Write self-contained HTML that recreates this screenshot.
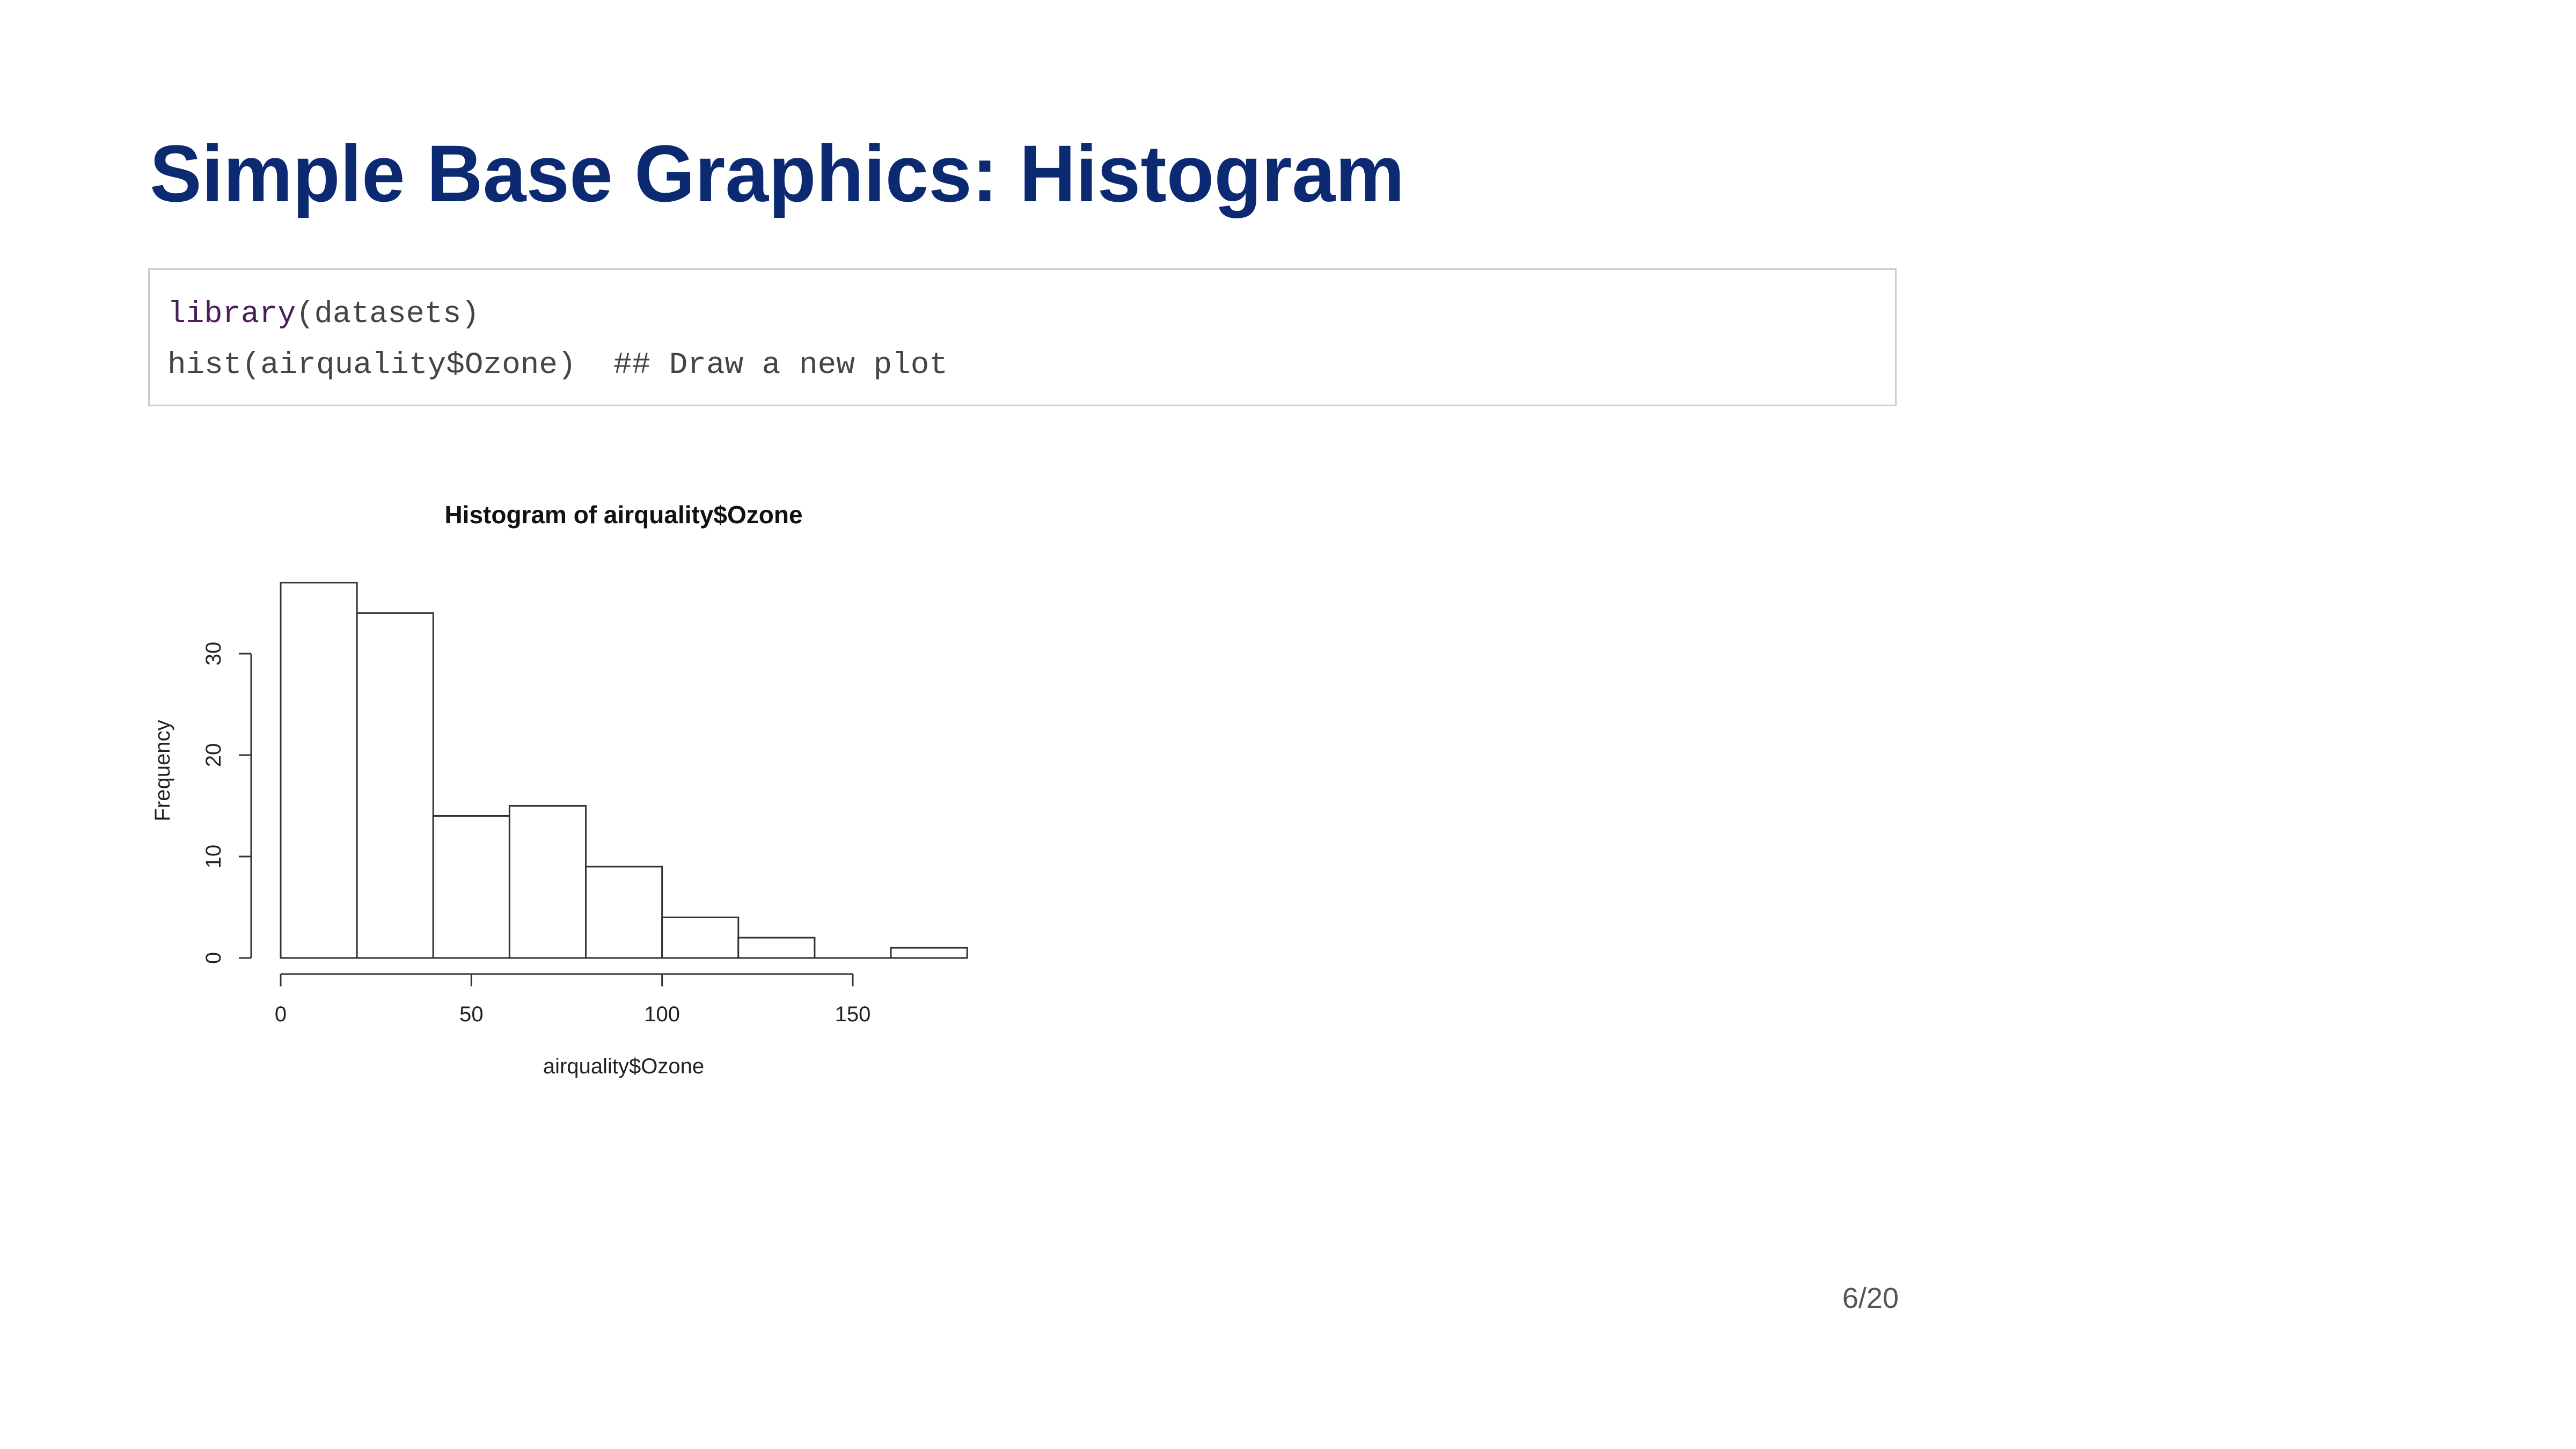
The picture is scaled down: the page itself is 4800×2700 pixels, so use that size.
<!DOCTYPE html>
<html><head><meta charset="utf-8"><style>
html,body{margin:0;padding:0;background:#fff;}
svg{display:block;}
</style></head><body>
<svg id="page" width="4800" height="2700" viewBox="0 0 4800 2700" xmlns="http://www.w3.org/2000/svg">
<rect x="0" y="0" width="4800" height="2700" fill="#fff"/>
<text x="279" y="375" font-family="Liberation Sans, sans-serif" font-weight="bold" font-size="150" fill="#0b2a72" textLength="2338" lengthAdjust="spacingAndGlyphs">Simple Base Graphics: Histogram</text>
<rect x="277.5" y="501.5" width="3255" height="254" fill="#fff" stroke="#cccccc" stroke-width="3"/>
<text x="312" y="600" font-family="Liberation Mono, monospace" font-size="57" fill="#444" style="white-space:pre" xml:space="preserve"><tspan fill="#4b1e5a">library</tspan>(datasets)</text>
<text x="312" y="695" font-family="Liberation Mono, monospace" font-size="57" fill="#444" style="white-space:pre" xml:space="preserve" textLength="1454" lengthAdjust="spacingAndGlyphs">hist(airquality$Ozone)  ## Draw a new plot</text>
<g id="chart"></g>
<text x="3538" y="2437" text-anchor="end" font-family="Liberation Sans, sans-serif" font-size="54" fill="#555">6/20</text>
</svg>
<script>
const binStarts = [0, 20, 40, 60, 80, 100, 120, 140, 160];
const binWidth = 20;
const counts = [37, 34, 14, 15, 9, 4, 2, 0, 1];
const xTicks = [0, 50, 100, 150];
const yTicks = [0, 10, 20, 30];

const NS = 'http://www.w3.org/2000/svg';
const g = document.getElementById('chart');
const x = v => 523 + v * (1589 - 523) / 150;
const y = v => 1785 - v * (1785 - 1218) / 30;
function mk(tag, attrs, parent) {
  const e = document.createElementNS(NS, tag);
  for (const k in attrs) e.setAttribute(k, attrs[k]);
  (parent || g).appendChild(e);
  return e;
}
const stroke = '#333';
binStarts.forEach((b, i) => {
  const r = mk('rect', {x: x(b), y: y(counts[i]), width: x(b + binWidth) - x(b), height: y(0) - y(counts[i]), fill: '#fff', stroke: stroke, 'stroke-width': 3});
  
  
  const bl = mk('line', {x1: x(b), x2: x(b + binWidth), y1: y(0), y2: y(0), stroke: stroke, 'stroke-width': 3});
  
  
});
const xa = mk('line', {x1: x(xTicks[0]), x2: x(xTicks[xTicks.length - 1]), y1: 1815, y2: 1815, stroke: stroke, 'stroke-width': 3});


xTicks.forEach(t => {
  mk('line', {x1: x(t), x2: x(t), y1: 1815, y2: 1838, stroke: stroke, 'stroke-width': 3});
  const tl = mk('text', {x: x(t), y: 1903, 'text-anchor': 'middle', 'font-family': 'Liberation Sans, sans-serif', 'font-size': 40, fill: '#222'});
  tl.textContent = t;
  
  
});
const ya = mk('line', {x1: 468, x2: 468, y1: y(yTicks[0]), y2: y(yTicks[yTicks.length - 1]), stroke: stroke, 'stroke-width': 3});


yTicks.forEach(t => {
  mk('line', {x1: 445, x2: 468, y1: y(t), y2: y(t), stroke: stroke, 'stroke-width': 3});
  const tl = mk('text', {x: 0, y: 0, 'text-anchor': 'middle', 'font-family': 'Liberation Sans, sans-serif', 'font-size': 40, fill: '#222', transform: 'translate(411,' + y(t) + ') rotate(-90)'});
  tl.textContent = t;
  
  
});
const title = mk('text', {x: 1162, y: 975, 'text-anchor': 'middle', 'font-family': 'Liberation Sans, sans-serif', 'font-weight': 'bold', 'font-size': 46, fill: '#111'});
title.textContent = 'Histogram of airquality$Ozone';


const xt = mk('text', {x: 1162, y: 2000, 'text-anchor': 'middle', 'font-family': 'Liberation Sans, sans-serif', 'font-size': 40, fill: '#222'});
xt.textContent = 'airquality$Ozone';


const yt = mk('text', {x: 0, y: 0, 'text-anchor': 'middle', 'font-family': 'Liberation Sans, sans-serif', 'font-size': 40, fill: '#222', transform: 'translate(316,1436) rotate(-90)'});
yt.textContent = 'Frequency';


</script>
</body></html>
